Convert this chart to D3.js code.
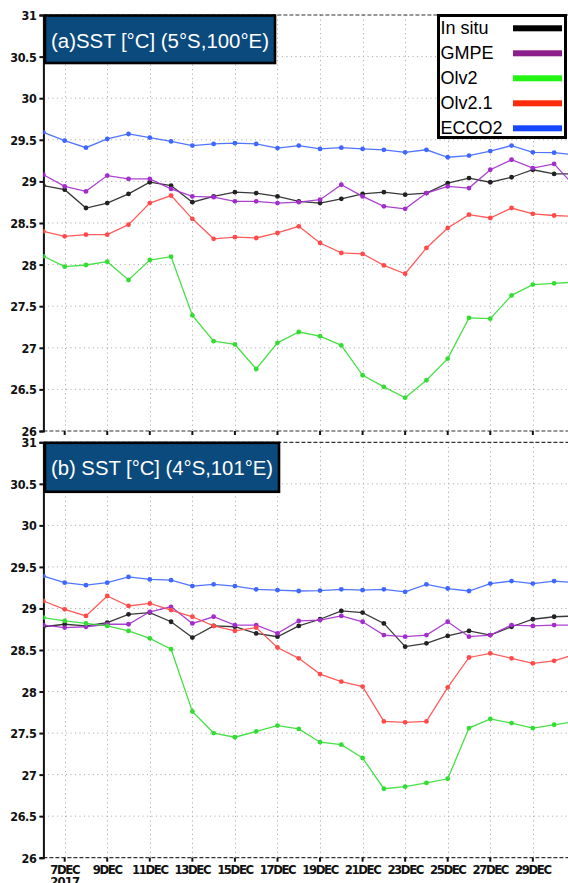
<!DOCTYPE html>
<html><head><meta charset="utf-8">
<script src="https://cdn.jsdelivr.net/npm/d3@7"></script>
<style>
html,body{margin:0;padding:0;background:#fff;overflow:hidden;}
svg{display:block;}
.tick-lbl{font-family:"DejaVu Sans Condensed","DejaVu Sans",sans-serif;font-stretch:condensed;font-weight:bold;font-size:12.5px;fill:#111;}
</style>
</head><body>
<script>
// ---- data ----
const days = [6,7,8,9,10,11,12,13,14,15,16,17,18,19,20,21,22,23,24,25,26,27,28,29,30,31];
const seriesNames = ["In situ","GMPE","Olv2","Olv2.1","ECCO2"];
const lineColors = ["#222222","#a22ccc","#33dd33","#ff4a4a","#3f66ff"];
const legendColors = ["#000000","#8b1f8b","#22f511","#ff2a0a","#1547ff"];

const insituA = [28.95,28.90,28.68,28.74,28.85,28.99,28.95,28.75, 28.82,28.87,28.86,28.82,28.76,28.74,28.79,28.85, 28.87,28.84,28.86,28.98,29.04,28.99,29.05,29.14,29.09,29.09];
const gmpeA   = [29.08,28.94,28.88,29.07,29.03,29.03,28.91,28.82, 28.81,28.76,28.76,28.74,28.75,28.78,28.96,28.82, 28.70,28.67,28.86,28.94,28.92,29.14,29.26,29.16,29.21,28.93];
const olv2A   = [28.10,27.975,27.995,28.035,27.815,28.055,28.095,27.39, 27.08,27.04,26.745,27.06,27.19,27.14,27.03,26.67, 26.53,26.40,26.61,26.87,27.36,27.35,27.63,27.76,27.775,27.79];
const olv21A  = [28.40,28.34,28.36,28.36,28.48,28.74,28.83,28.55, 28.31,28.33,28.32,28.38,28.46,28.26,28.14,28.13, 27.99,27.89,28.20,28.44,28.60,28.56,28.68,28.61,28.59,28.58];
const eccoA   = [29.59,29.49,29.405,29.51,29.57,29.525,29.48,29.43, 29.45,29.46,29.45,29.40,29.43,29.39,29.405,29.39, 29.38,29.35,29.38,29.29,29.31,29.365,29.43,29.35,29.345,29.32];

const insituB = [28.78,28.81,28.79,28.83,28.93,28.95,28.84,28.65, 28.79,28.78,28.70,28.66,28.79,28.87,28.97,28.95, 28.82,28.54,28.58,28.67,28.73,28.68,28.78,28.87,28.90,28.91];
const gmpeB   = [28.80,28.77,28.78,28.81,28.81,28.96,29.02,28.82, 28.90,28.80,28.80,28.70,28.85,28.86,28.91,28.84, 28.68,28.66,28.68,28.84,28.66,28.68,28.80,28.79,28.80,28.80];
const olv2B   = [28.89,28.85,28.82,28.79,28.73,28.64,28.51,27.76, 27.50,27.45,27.52,27.59,27.55,27.39,27.36,27.20, 26.83,26.855,26.90,26.95,27.56,27.67,27.62,27.56,27.60,27.64];
const olv21B  = [29.09,28.99,28.91,29.15,29.03,29.06,28.98,28.90, 28.79,28.73,28.77,28.53,28.40,28.21,28.12,28.06, 27.64,27.63,27.64,28.05,28.41,28.46,28.40,28.34,28.37,28.45];
const eccoB   = [29.39,29.31,29.28,29.31,29.38,29.35,29.34,29.27, 29.29,29.27,29.23,29.22,29.21,29.215,29.23,29.22, 29.23,29.20,29.29,29.24,29.21,29.30,29.33,29.30,29.33,29.31];

const yTicks = [26,26.5,27,27.5,28,28.5,29,29.5,30,30.5,31];
const xTickDays = [7,9,11,13,15,17,19,21,23,25,27,29];
const xTickLabels = ["7DEC","9DEC","11DEC","13DEC","15DEC","17DEC","19DEC","21DEC","23DEC","25DEC","27DEC","29DEC"];
const yearLabel = "2017";
const titleA = "(a)SST [°C] (5°S,100°E)";
const titleB = "(b) SST [°C] (4°S,101°E)";

// ---- drawing ----
const W = 568, H = 883;
const svg = d3.select("body").append("svg").attr("width",W).attr("height",H);
const x = d3.scaleLinear().domain([6,31]).range([43.4, 43.4+25*21.28]);
const xLeft = 43.4;

function panel(id, top, bottom, seriesData, title, titleW, showLabels){
  const y = d3.scaleLinear().domain([26,31]).range([bottom, top]);
  const g = svg.append("g");
  svg.append("clipPath").attr("id","clip"+id).append("rect")
    .attr("x",xLeft).attr("y",top-4).attr("width",W-xLeft).attr("height",bottom-top+8);
  g.selectAll(".hg").data(yTicks.filter(v=>v>26 && v<31)).join("line")
    .attr("x1",xLeft).attr("x2",W).attr("y1",d=>y(d)).attr("y2",d=>y(d))
    .attr("stroke","#b0b0b0").attr("stroke-width",1).attr("stroke-dasharray","1.2,3.3");
  g.selectAll(".vg").data(xTickDays).join("line")
    .attr("x1",d=>Math.round(x(d))+0.5).attr("x2",d=>Math.round(x(d))+0.5).attr("y1",top).attr("y2",bottom)
    .attr("stroke","#b0b0b0").attr("stroke-width",1).attr("stroke-dasharray","1.2,3.3");
  [top,bottom].forEach(yy=>{
    g.append("line").attr("x1",xLeft).attr("x2",W).attr("y1",yy).attr("y2",yy)
      .attr("stroke","#333").attr("stroke-width",1.2).attr("stroke-dasharray","4,2");
  });
  g.selectAll(".xt").data(xTickDays).join("line")
    .attr("x1",d=>x(d)).attr("x2",d=>x(d)).attr("y1",bottom).attr("y2",bottom+4)
    .attr("stroke","#111").attr("stroke-width",2);
  const yAxis = d3.axisLeft(y).tickValues(yTicks).tickSize(4).tickPadding(3).tickFormat(d=>String(d));
  const ya = g.append("g").attr("transform",`translate(${xLeft},0)`).call(yAxis);
  ya.select(".domain").attr("stroke","#111").attr("stroke-width",2);
  ya.selectAll(".tick line").attr("stroke","#111").attr("stroke-width",2);
  ya.selectAll(".tick text").attr("class","tick-lbl").attr("dy","0.36em").attr("letter-spacing","-0.4px");
  const line = d3.line().x((d,i)=>x(days[i])).y(d=>y(d));
  const sg = g.append("g").attr("clip-path",`url(#clip${id})`);
  seriesData.forEach((arr,k)=>{
    sg.append("path").datum(arr).attr("d",line).attr("fill","none")
      .attr("stroke",lineColors[k]).attr("stroke-width",1.3).attr("stroke-opacity",0.9);
    sg.selectAll(null).data(arr).join("circle")
      .attr("cx",(d,i)=>x(days[i])).attr("cy",d=>y(d)).attr("r",2.4).attr("fill",lineColors[k]);
  });
  const boxH = (id==="A") ? 47.5 : 49;
  g.append("rect").attr("x",xLeft+1.6).attr("y",top+0.5).attr("width",titleW).attr("height",boxH)
    .attr("fill","#0b4a7c").attr("stroke","#000").attr("stroke-width",2.6);
  g.append("text").attr("x",xLeft+7.6).attr("y",top+32.5)
    .attr("font-family","'Liberation Sans','Noto Sans',sans-serif").attr("font-size","19.5px")
    .attr("fill","#fff").attr("textLength",titleW-12).attr("lengthAdjust","spacingAndGlyphs").text(title);
  if(showLabels){
    g.selectAll(".xl").data(xTickDays).join("text").attr("class","tick-lbl")
      .attr("x",d=>x(d)).attr("y",bottom+16.3).attr("text-anchor","middle").style("font-size","13px")
      .attr("letter-spacing","-1.4px")
      .text((d,i)=>xTickLabels[i]);
    g.append("text").attr("class","tick-lbl").attr("x",x(7)).attr("y",bottom+28.3)
      .attr("text-anchor","middle").style("font-size","13px").attr("letter-spacing","-0.9px")
      .text(yearLabel);
  }
  return y;
}

panel("A", 15, 431, [insituA,gmpeA,olv2A,olv21A,eccoA], titleA, 230, false);
panel("B", 442.3, 857.7, [insituB,gmpeB,olv2B,olv21B,eccoB], titleB, 234, true);

// legend
const lg = svg.append("g");
lg.append("rect").attr("x",438.5).attr("y",15.5).attr("width",127).attr("height",122)
  .attr("fill","#fff").attr("stroke","#000").attr("stroke-width",3);
const rowY = d3.scaleLinear().domain([0,4]).range([28.3,128.3]);
seriesNames.forEach((n,k)=>{
  lg.append("text").attr("x",440.5).attr("y",rowY(k)+5.3)
    .attr("font-family","'Liberation Sans','Noto Sans',sans-serif").attr("font-size","18px")
    .attr("fill","#000").text(n);
  lg.append("rect").attr("x",513).attr("y",rowY(k)-3).attr("width",49).attr("height",6)
    .attr("fill",legendColors[k]);
});
</script>
</body></html>
